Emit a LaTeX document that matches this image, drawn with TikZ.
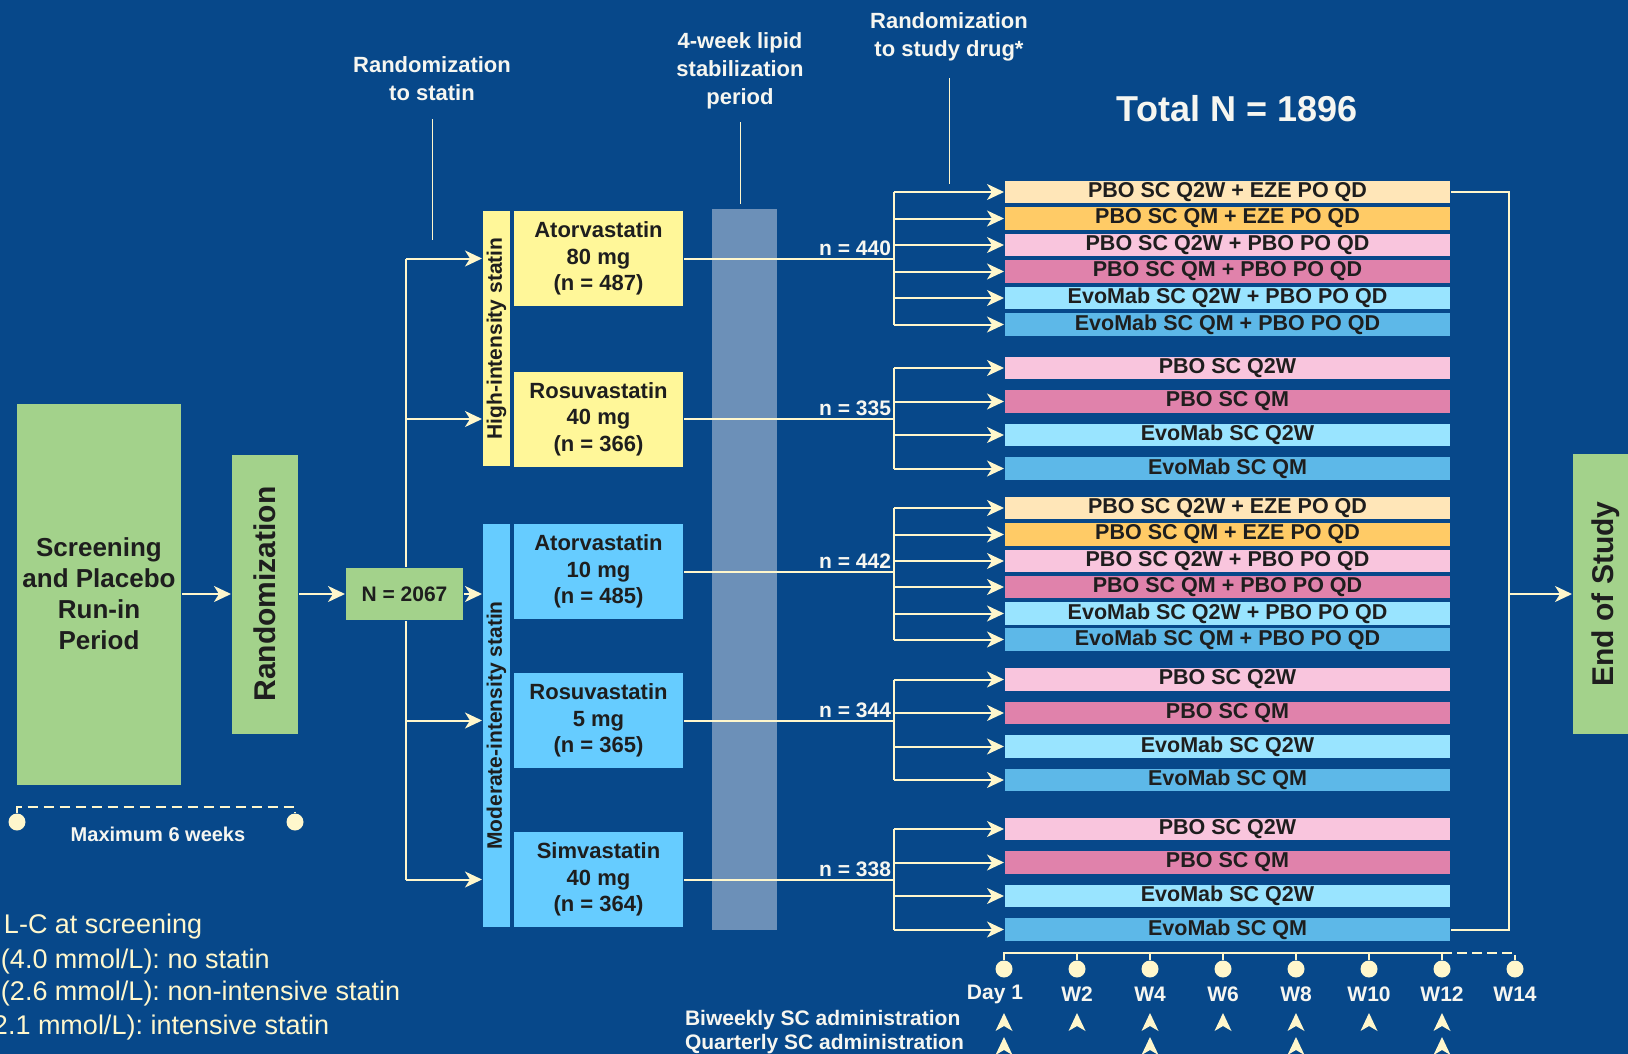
\documentclass[tikz,border=0pt]{standalone}
\usepackage{fontspec}
\setmainfont{Liberation Sans}
\usepackage{graphicx}
\usetikzlibrary{arrows.meta}
\definecolor{bg}{HTML}{07488A}
\definecolor{cream}{HTML}{FFF7CC}
\definecolor{txt}{HTML}{F6F6F0}
\definecolor{dark}{HTML}{1E1E1E}
\definecolor{grn}{HTML}{A3D28B}
\definecolor{yel}{HTML}{FFF799}
\definecolor{sky}{HTML}{66CCFF}
\definecolor{gry}{HTML}{6C90B8}
\definecolor{peach}{HTML}{FFE6B8}
\definecolor{orng}{HTML}{FFCB66}
\definecolor{lpink}{HTML}{F9C5DD}
\definecolor{pink}{HTML}{E082AB}
\definecolor{lcyan}{HTML}{99E4FF}
\definecolor{blu}{HTML}{5DB8E8}

\begin{document}
\begin{tikzpicture}[x=1pt,y=-1pt,line width=2pt,draw=cream,
	>={Stealth[length=17pt,width=16pt,inset=5pt]},
	box/.style={inner sep=0pt,text=dark,align=center,font=\bfseries\fontsize{22}{26.5}\selectfont},
	drug/.style={box,minimum width=169pt,minimum height=95pt},
	strip/.style={box,minimum width=27pt,font=\bfseries\fontsize{21}{25}\selectfont},
	bar/.style={box,minimum width=445pt,minimum height=22.5pt,font=\bfseries\fontsize{21.5}{25}\selectfont},
	lbl/.style={inner sep=0pt,text=txt,align=center,font=\bfseries\fontsize{22}{28}\selectfont},
	nlbl/.style={inner sep=2pt,text=txt,font=\bfseries\fontsize{21}{25}\selectfont},
	note/.style={inner sep=0pt,anchor=base west,text=cream,font=\fontsize{27}{33}\selectfont},
	dot/.style={circle,fill=cream,minimum size=17pt,inner sep=0pt},
	uptip/.pic={\fill[cream] (0,-9) -- (8.5,9) -- (0,4) -- (-8.5,9) -- cycle;}]
	\useasboundingbox (0,0) rectangle (1628,1054);
	\fill[bg] (0,0) rectangle (1628,1054);
	\node[fill=gry,minimum width=65pt,minimum height=721pt] at (744.5,569.5) (stab) {};
%	\begin{scope}
	\node[box,fill=grn,minimum width=164pt,minimum height=381pt,font=\bfseries\fontsize{26}{31}\selectfont] at (99,594) (scr) {Screening\\and Placebo\\Run-in\\Period};
	\node[box,fill=grn,minimum width=66pt,minimum height=279pt,font=\bfseries\fontsize{30}{36}\selectfont] at (265,594) (rand) {\rotatebox{90}{Randomization}};
	\node[box,fill=grn,minimum width=117pt,minimum height=52pt,font=\bfseries\fontsize{21}{25}\selectfont] at (404.5,594) (n) {N = 2067};
	\node[strip,fill=yel,minimum height=255pt] at (496.5,338.5) (hi) {\rotatebox{90}{High-intensity statin}};
	\node[strip,fill=sky,minimum height=403pt] at (496.5,725.5) (mo) {\rotatebox{90}{Moderate-intensity statin}};
	\node[drug,fill=yel] at (598.5,258.5) (a80) {Atorvastatin\\80 mg\\(n = 487)};
	\node[drug,fill=yel] at (598.5,419) (r40) {Rosuvastatin\\40 mg\\(n = 366)};
	\node[drug,fill=sky] at (598.5,571.5) (a10) {Atorvastatin\\10 mg\\(n = 485)};
	\node[drug,fill=sky] at (598.5,720.5) (r5) {Rosuvastatin\\5 mg\\(n = 365)};
	\node[drug,fill=sky] at (598.5,879.5) (s40) {Simvastatin\\40 mg\\(n = 364)};
	\node[box,fill=grn,minimum width=66pt,minimum height=280pt,font=\bfseries\fontsize{30}{36}\selectfont] at (1606,594) (eos) {\rotatebox{90}{End of Study}};

	\node[lbl] at (432,79) (rs) {Randomization\\to statin};
	\node[lbl] at (740,71) (lip) {4-week lipid\\stabilization\\period};
	\node[lbl] at (949,37) (rd) {Randomization\\to study drug*};
	\node[text=txt,font=\bfseries\fontsize{36}{40}\selectfont] at (1237,109) (tot) {Total N = 1896};
	\draw[line width=1pt] ([yshift=-17pt]rs.south) -- ++(0,121);
	\draw[line width=1pt] ([yshift=-12pt]lip.south) -- ++(0,82);
	\draw[line width=1pt] ([yshift=-16pt]rd.south) -- ++(0,106);

	\coordinate (t) at (406,0);
	\coordinate (k) at (894,0);
	\coordinate (e) at (1509,0);
	\draw [->] (scr) -- (rand);
	\draw [->] (rand) -- (n);
	\draw (t |- a80) -- (t |- n.north);
	\draw (t |- n.south) -- (t |- s40);
	\draw [->] (t |- a80) -- (hi.west |- a80);
	\draw [->] (t |- r40) -- (hi.west |- r40);
	\draw [->] (n) -- (mo.west |- n);
	\draw [->] (t |- r5) -- (mo.west |- r5);
	\draw [->] (t |- s40) -- (mo.west |- s40);

	% n = 440
	\node[bar,fill=peach] at (1227.5,192) (b1) {PBO SC Q2W + EZE PO QD};
	\node[bar,fill=orng] at (1227.5,218.5) (b2) {PBO SC QM + EZE PO QD};
	\node[bar,fill=lpink] at (1227.5,245) (b3) {PBO SC Q2W + PBO PO QD};
	\node[bar,fill=pink] at (1227.5,271.5) (b4) {PBO SC QM + PBO PO QD};
	\node[bar,fill=lcyan] at (1227.5,298) (b5) {EvoMab SC Q2W + PBO PO QD};
	\node[bar,fill=blu] at (1227.5,324.5) (b6) {EvoMab SC QM + PBO PO QD};
	% n = 335
	\node[bar,fill=lpink] at (1227.5,368) (b7) {PBO SC Q2W};
	\node[bar,fill=pink] at (1227.5,401.5) (b8) {PBO SC QM};
	\node[bar,fill=lcyan] at (1227.5,435) (b9) {EvoMab SC Q2W};
	\node[bar,fill=blu] at (1227.5,468.5) (b10) {EvoMab SC QM};
	% n = 442
	\node[bar,fill=peach] at (1227.5,508) (b11) {PBO SC Q2W + EZE PO QD};
	\node[bar,fill=orng] at (1227.5,534.5) (b12) {PBO SC QM + EZE PO QD};
	\node[bar,fill=lpink] at (1227.5,561) (b13) {PBO SC Q2W + PBO PO QD};
	\node[bar,fill=pink] at (1227.5,587) (b14) {PBO SC QM + PBO PO QD};
	\node[bar,fill=lcyan] at (1227.5,613.5) (b15) {EvoMab SC Q2W + PBO PO QD};
	\node[bar,fill=blu] at (1227.5,639.5) (b16) {EvoMab SC QM + PBO PO QD};
	% n = 344
	\node[bar,fill=lpink] at (1227.5,679.5) (b17) {PBO SC Q2W};
	\node[bar,fill=pink] at (1227.5,713) (b18) {PBO SC QM};
	\node[bar,fill=lcyan] at (1227.5,746.5) (b19) {EvoMab SC Q2W};
	\node[bar,fill=blu] at (1227.5,780) (b20) {EvoMab SC QM};
	% n = 338
	\node[bar,fill=lpink] at (1227.5,829) (b21) {PBO SC Q2W};
	\node[bar,fill=pink] at (1227.5,862.5) (b22) {PBO SC QM};
	\node[bar,fill=lcyan] at (1227.5,896) (b23) {EvoMab SC Q2W};
	\node[bar,fill=blu] at (1227.5,929.5) (b24) {EvoMab SC QM};

	\draw (a80) -- (k |- a80) node[nlbl,above left] {n = 440};
	\draw (r40) -- (k |- r40) node[nlbl,above left] {n = 335};
	\draw (a10) -- (k |- a10) node[nlbl,above left] {n = 442};
	\draw (r5) -- (k |- r5) node[nlbl,above left] {n = 344};
	\draw (s40) -- (k |- s40) node[nlbl,above left] {n = 338};
	\draw (k |- b1) -- (k |- b6);
	\draw (k |- b7) -- (k |- b10);
	\draw (k |- b11) -- (k |- b16);
	\draw (k |- b17) -- (k |- b20);
	\draw (k |- b21) -- (k |- b24);
	\draw [->] (k |- b1) -- (b1);
	\draw [->] (k |- b2) -- (b2);
	\draw [->] (k |- b3) -- (b3);
	\draw [->] (k |- b4) -- (b4);
	\draw [->] (k |- b5) -- (b5);
	\draw [->] (k |- b6) -- (b6);
	\draw [->] (k |- b7) -- (b7);
	\draw [->] (k |- b8) -- (b8);
	\draw [->] (k |- b9) -- (b9);
	\draw [->] (k |- b10) -- (b10);
	\draw [->] (k |- b11) -- (b11);
	\draw [->] (k |- b12) -- (b12);
	\draw [->] (k |- b13) -- (b13);
	\draw [->] (k |- b14) -- (b14);
	\draw [->] (k |- b15) -- (b15);
	\draw [->] (k |- b16) -- (b16);
	\draw [->] (k |- b17) -- (b17);
	\draw [->] (k |- b18) -- (b18);
	\draw [->] (k |- b19) -- (b19);
	\draw [->] (k |- b20) -- (b20);
	\draw [->] (k |- b21) -- (b21);
	\draw [->] (k |- b22) -- (b22);
	\draw [->] (k |- b23) -- (b23);
	\draw [->] (k |- b24) -- (b24);
	\draw (b1) -- (e |- b1) -- (e |- b24) -- (b24);
	\draw [->] (e |- eos) -- (eos);

	% maximum 6 weeks
	\node[dot] at (17,822) (m1) {};
	\node[dot] at (295,822) (m2) {};
	\coordinate (mx) at (0,807);
	\draw[dash pattern=on 10pt off 6pt] (m1.north) -- (m1 |- mx) -- (m2 |- mx) -- (m2.north);
	\node[text=txt,font=\bfseries\fontsize{20}{24}\selectfont] at (158,834) (mw) {Maximum 6 weeks};

	\node[note] at (3,933) (l1) {L-C at screening};
	\node[note] at (0,968) (l2) {(4.0 mmol/L): no statin};
	\node[note] at (0,1000) (l3) {(2.6 mmol/L): non-intensive statin};
	\node[note] at (-8,1034) (l4) {2.1 mmol/L): intensive statin};

	% timeline
	\coordinate (tl) at (0,953);
	\node[dot] at (1004,969) (d0) {};
	\node[dot] at (1077,969) (d1) {};
	\node[dot] at (1150,969) (d2) {};
	\node[dot] at (1223,969) (d3) {};
	\node[dot] at (1296,969) (d4) {};
	\node[dot] at (1369,969) (d5) {};
	\node[dot] at (1442,969) (d6) {};
	\node[dot] at (1515,969) (d7) {};
	\draw (d0.north) -- (d0 |- tl) -- (d6 |- tl) -- (d6.north);
	\draw (d1.north) -- (d1 |- tl);
	\draw (d2.north) -- (d2 |- tl);
	\draw (d3.north) -- (d3 |- tl);
	\draw (d4.north) -- (d4 |- tl);
	\draw (d5.north) -- (d5 |- tl);
	\draw[dash pattern=on 10pt off 5pt] (d6 |- tl) -- (d7 |- tl) -- (d7.north);
	\node[nlbl] at (995,994) (w0) {Day 1};
	\node[nlbl] at (1077,994) (w1) {W2};
	\node[nlbl] at (1150,994) (w2) {W4};
	\node[nlbl] at (1223,994) (w3) {W6};
	\node[nlbl] at (1296,994) (w4) {W8};
	\node[nlbl] at (1369,994) (w5) {W10};
	\node[nlbl] at (1442,994) (w6) {W12};
	\node[nlbl] at (1515,994) (w7) {W14};
	\node[nlbl,anchor=west,inner sep=0pt] at (684,1020) (bi) {Biweekly SC administration};
	\node[nlbl,anchor=west,inner sep=0pt] at (684,1044) (qu) {Quarterly SC administration};
	\pic at (1004,1022) {uptip};
	\pic at (1077,1022) {uptip};
	\pic at (1150,1022) {uptip};
	\pic at (1223,1022) {uptip};
	\pic at (1296,1022) {uptip};
	\pic at (1369,1022) {uptip};
	\pic at (1442,1022) {uptip};
	\pic at (1004,1046) {uptip};
	\pic at (1150,1046) {uptip};
	\pic at (1296,1046) {uptip};
	\pic at (1442,1046) {uptip};
%	\end{scope}
\end{tikzpicture}
\end{document}
